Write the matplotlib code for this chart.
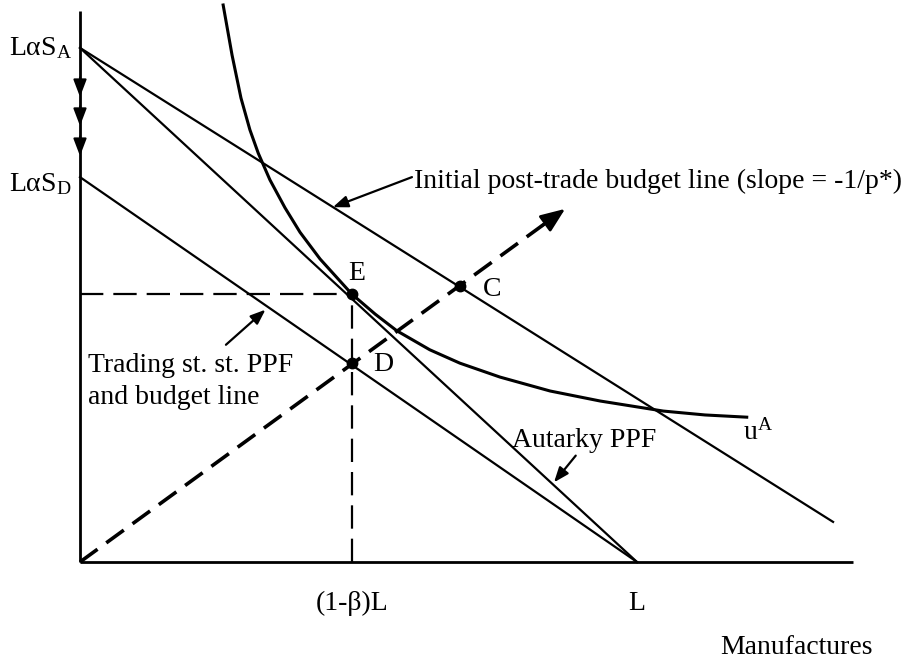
import matplotlib
matplotlib.use("Agg")
import matplotlib.pyplot as plt

plt.rcParams['font.family'] = ['Liberation Serif', 'DejaVu Serif']
plt.rcParams['mathtext.fontset'] = 'custom'
plt.rcParams['mathtext.rm'] = 'Liberation Serif'
plt.rcParams['mathtext.it'] = 'Liberation Serif:italic'

# ---- data (x in units of L, y on same scale) ----
L_val = 1.0
one_minus_beta_L = 0.488
LaS_A = 0.923
LaS_D = 0.691
E_pt = (0.488, 0.481)
D_pt = (0.488, 0.357)
C_pt = (0.682, 0.496)
budget_x = [0.0, 1.352]
budget_y = [0.923, 0.072]
ray_end = (0.871, 0.634)
axis_arrow_y = [0.835, 0.783, 0.729]
x_axis_end = 1.388
y_axis_end = 0.989
curve_x = [0.257, 0.273, 0.289, 0.305, 0.320, 0.341, 0.368, 0.395, 0.431, 0.488,
           0.530, 0.569, 0.628, 0.682, 0.754, 0.844, 0.934, 1.047, 1.122, 1.197]
curve_y = [1.000, 0.910, 0.833, 0.776, 0.734, 0.686, 0.636, 0.592, 0.544, 0.481,
           0.445, 0.415, 0.381, 0.357, 0.332, 0.307, 0.289, 0.271, 0.264, 0.260]

fig = plt.figure(figsize=(9.07, 6.59), dpi=100)
ax = fig.add_axes([0, 0, 1, 1])
ax.set_xlim(-80 / 557, 827 / 557)
ax.set_ylim(-97 / 557, 562 / 557)
ax.axis('off')

lw = 1.6
# axes
ax.plot([0, 0], [0, y_axis_end], color='k', lw=2.0, solid_capstyle='butt')
ax.plot([0, x_axis_end], [0, 0], color='k', lw=2.0, solid_capstyle='butt')
for y in axis_arrow_y:
    ax.annotate('', xy=(0, y), xytext=(0, y + 0.035),
                arrowprops=dict(arrowstyle='-|>,head_length=1.05,head_width=0.4',
                                color='k', lw=1.5, shrinkA=0, shrinkB=0))

# autarky PPF
ax.plot([0, L_val], [LaS_A, 0], color='k', lw=lw)
# trading steady-state PPF
ax.plot([0, L_val], [LaS_D, 0], color='k', lw=lw)
# initial post-trade budget line
ax.plot(budget_x, budget_y, color='k', lw=lw)
# indifference curve
ax.plot(curve_x, curve_y, color='k', lw=2.2, solid_joinstyle='round')

# dashed guides
ax.plot([0, E_pt[0]], [E_pt[1], E_pt[1]], color='k', lw=1.6, linestyle=(0, (10.5, 4.5)))
ax.plot([E_pt[0], E_pt[0]], [0, E_pt[1]], color='k', lw=1.6, linestyle=(0, (10.5, 4.5)))
# dashed ray with arrow
rx = ray_end[0] * 0.97
ry = ray_end[1] * 0.97
ax.plot([0, rx], [0, ry], color='k', lw=2.6, linestyle=(0, (6, 3)))
ax.annotate('', xy=ray_end, xytext=(ray_end[0] * 0.95, ray_end[1] * 0.95),
            arrowprops=dict(arrowstyle='-|>,head_length=1.5,head_width=0.6',
                            color='k', lw=2.0, shrinkA=0, shrinkB=0))

# points
for p in (E_pt, D_pt, C_pt):
    ax.plot(p[0], p[1], 'o', color='k', ms=7.5)

fs = 20
ax.text(-0.0144, LaS_A, 'LαS$_\\mathrm{A}$', ha='right', va='center', fontsize=fs)
ax.text(-0.0144, LaS_D - 0.012, 'LαS$_\\mathrm{D}$', ha='right', va='center', fontsize=fs)
ax.text(0.497, 0.518, 'E', ha='center', va='center', fontsize=fs)
ax.text(0.544, 0.355, 'D', ha='center', va='center', fontsize=fs)
ax.text(0.740, 0.490, 'C', ha='center', va='center', fontsize=fs)
ax.text(one_minus_beta_L, -0.075, '(1-β)L', ha='center', va='center', fontsize=fs)
ax.text(L_val, -0.075, 'L', ha='center', va='center', fontsize=fs)
ax.text(1.149, -0.153, 'Manufactures', ha='left', va='center', fontsize=fs)
ax.text(1.190, 0.232, 'u$^\\mathrm{A}$', ha='left', va='center', fontsize=fs)

ax.text(0.600, 0.683, 'Initial post-trade budget line (slope = -1/p*)',
        ha='left', va='center', fontsize=fs)
ax.annotate('', xy=(0.454, 0.637), xytext=(0.596, 0.691),
            arrowprops=dict(arrowstyle='-|>,head_length=0.9,head_width=0.35',
                            color='k', lw=1.6, shrinkA=0, shrinkB=0))

ax.text(0.0144, 0.352, 'Trading st. st. PPF', ha='left', va='center', fontsize=fs)
ax.text(0.0144, 0.296, 'and budget line', ha='left', va='center', fontsize=fs)
ax.annotate('', xy=(0.333, 0.453), xytext=(0.262, 0.390),
            arrowprops=dict(arrowstyle='-|>,head_length=0.9,head_width=0.35',
                            color='k', lw=1.6, shrinkA=0, shrinkB=0))

ax.text(0.776, 0.219, 'Autarky PPF', ha='left', va='center', fontsize=fs)
ax.annotate('', xy=(0.851, 0.143), xytext=(0.890, 0.191),
            arrowprops=dict(arrowstyle='-|>,head_length=0.9,head_width=0.35',
                            color='k', lw=1.6, shrinkA=0, shrinkB=0))

fig.savefig('out.png', dpi=100)
